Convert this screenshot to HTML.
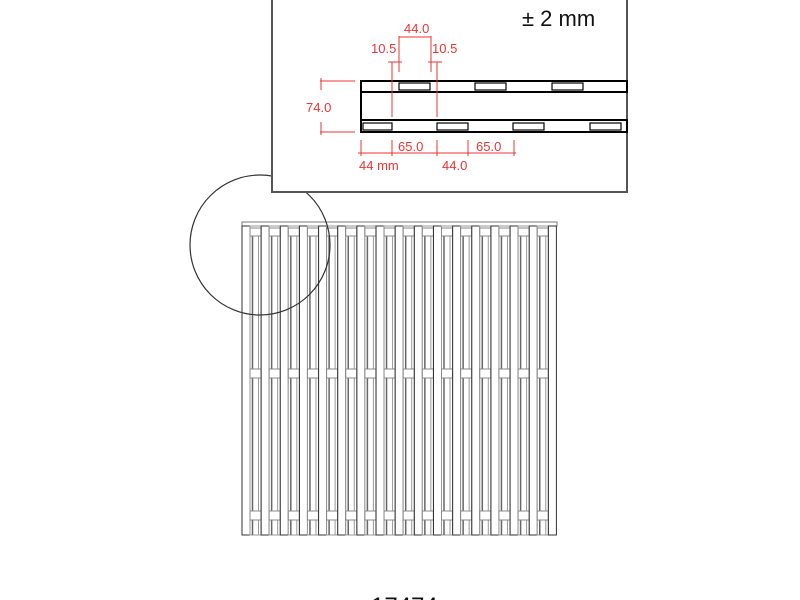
<!DOCTYPE html>
<html><head><style>html,body{margin:0;padding:0;background:#fff;width:800px;height:600px;overflow:hidden}</style></head>
<body>
<svg width="800" height="600" xmlns="http://www.w3.org/2000/svg" xmlns:xlink="http://www.w3.org/1999/xlink" font-family="Liberation Sans, sans-serif">
<defs>
<g id="u" fill="#fff">
<rect x="0" y="226" width="8" height="309" stroke="#333"/>
<rect x="8" y="226" width="11" height="309" stroke="#999"/>
<line x1="10.5" y1="236" x2="10.5" y2="535" stroke="#666" stroke-width="1.5"/>
<line x1="16.5" y1="236" x2="16.5" y2="535" stroke="#999"/>
<rect x="8" y="228" width="11" height="8" stroke="#888"/>
<rect x="8" y="369" width="11" height="9" stroke="#888"/>
<rect x="8" y="511" width="11" height="9" stroke="#888"/>
</g>
</defs>
<rect x="242" y="222" width="315" height="4" stroke="#777" fill="#fff"/>
<use href="#u" xlink:href="#u" x="242"/>
<use href="#u" xlink:href="#u" x="261.15"/>
<use href="#u" xlink:href="#u" x="280.3"/>
<use href="#u" xlink:href="#u" x="299.45"/>
<use href="#u" xlink:href="#u" x="318.6"/>
<use href="#u" xlink:href="#u" x="337.75"/>
<use href="#u" xlink:href="#u" x="356.9"/>
<use href="#u" xlink:href="#u" x="376.05"/>
<use href="#u" xlink:href="#u" x="395.2"/>
<use href="#u" xlink:href="#u" x="414.35"/>
<use href="#u" xlink:href="#u" x="433.5"/>
<use href="#u" xlink:href="#u" x="452.65"/>
<use href="#u" xlink:href="#u" x="471.8"/>
<use href="#u" xlink:href="#u" x="490.95"/>
<use href="#u" xlink:href="#u" x="510.1"/>
<use href="#u" xlink:href="#u" x="529.25"/>
<rect x="548.4" y="226" width="8" height="309" stroke="#333" fill="#fff"/>
<circle cx="260" cy="245" r="70" fill="none" stroke="#333" stroke-width="1.2"/>
<rect x="272" y="-2" width="355" height="194" fill="#fff" stroke="#555" stroke-width="2"/>
<text x="522" y="26" font-size="22" fill="#111">± 2 mm</text>
<g stroke="#000" fill="#fff">
<rect x="361" y="81" width="266" height="11" stroke-width="2"/>
<rect x="361" y="120" width="266" height="12" stroke-width="2"/>
<line x1="361" y1="81" x2="361" y2="132" stroke-width="2"/>
<g stroke-width="1.2">
<rect x="399" y="83" width="31" height="7"/><rect x="475" y="83" width="31" height="7"/><rect x="552" y="83" width="31" height="7"/>
<rect x="363" y="123" width="29" height="7"/><rect x="437" y="123" width="31" height="7"/><rect x="513" y="123" width="31" height="7"/><rect x="590" y="123" width="31" height="7"/>
</g></g>
<g stroke="#e33" stroke-width="1" fill="none">
<line x1="320" y1="81" x2="355" y2="81"/><line x1="320" y1="132" x2="355" y2="132"/>
<line x1="321" y1="78" x2="321" y2="90"/><line x1="321" y1="122" x2="321" y2="135"/>
<line x1="392" y1="62" x2="392" y2="117"/><line x1="437" y1="62" x2="437" y2="117"/>
<line x1="399" y1="36" x2="399" y2="72"/><line x1="431" y1="36" x2="431" y2="72"/>
<line x1="399" y1="37" x2="431" y2="37"/>
<line x1="388" y1="62" x2="402" y2="62"/><line x1="428" y1="62" x2="442" y2="62"/>
<line x1="361" y1="140" x2="361" y2="156"/><line x1="392" y1="140" x2="392" y2="156"/><line x1="437" y1="140" x2="437" y2="156"/><line x1="468" y1="140" x2="468" y2="156"/><line x1="514" y1="140" x2="514" y2="156"/>
<line x1="358" y1="153" x2="516" y2="153"/>
</g>
<g fill="#e33" font-size="13">
<text x="404" y="33">44.0</text>
<text x="371" y="53">10.5</text><text x="432" y="53">10.5</text>
<text x="306" y="112">74.0</text>
<text x="398" y="151">65.0</text><text x="476" y="151">65.0</text>
<text x="359" y="170">44 mm</text><text x="442" y="170">44.0</text>
</g>
<text x="371" y="614" font-size="24" fill="#111">17474</text>
</svg>
</body></html>
